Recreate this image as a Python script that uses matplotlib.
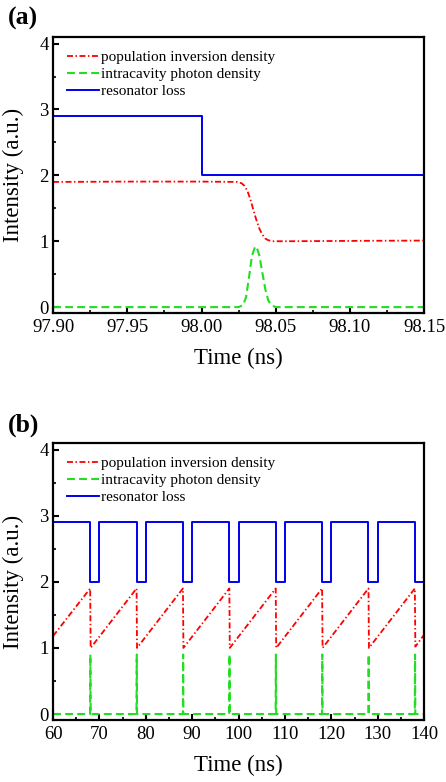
import matplotlib
matplotlib.use("Agg")
import matplotlib.pyplot as plt
from matplotlib.ticker import MultipleLocator, FormatStrFormatter

plt.rcParams['font.family'] = ['Liberation Serif', 'DejaVu Serif']
plt.rcParams['mathtext.fontset'] = 'stix'

# ---------------- data: panel (a) ----------------
a_loss_t = [97.90, 98.00, 98.15]
a_loss_v = [2.9, 2.0, 2.0]

a_inv_t = [97.90, 97.95, 98.00, 98.024, 98.027, 98.029, 98.031, 98.033, 98.035, 98.037,
           98.039, 98.041, 98.043, 98.045, 98.048, 98.06, 98.10, 98.15]
a_inv_v = [1.90, 1.905, 1.905, 1.90, 1.88, 1.84, 1.76, 1.63, 1.47, 1.32,
           1.19, 1.10, 1.04, 1.015, 1.00, 1.00, 1.005, 1.01]

a_ph_t = [97.90, 98.025, 98.028, 98.030, 98.032, 98.034, 98.036, 98.037, 98.039,
          98.041, 98.043, 98.045, 98.047, 98.050, 98.15]
a_ph_v = [0.0, 0.0, 0.03, 0.15, 0.45, 0.78, 0.91, 0.92, 0.78,
          0.52, 0.27, 0.10, 0.03, 0.0, 0.0]

# ---------------- data: panel (b) ----------------
b_loss_t = [60, 68, 70, 78, 80, 88, 90, 98, 100, 108, 110, 118, 120, 128, 130, 138, 140]
b_loss_v = [2.9, 2.0, 2.9, 2.0, 2.9, 2.0, 2.9, 2.0, 2.9, 2.0, 2.9, 2.0, 2.9, 2.0, 2.9, 2.0, 2.0]

b_inv_t = [60, 68.0, 68.1, 78.0, 78.1, 88.0, 88.1, 98.0, 98.1, 108.0, 108.1,
           118.0, 118.1, 128.0, 128.1, 138.0, 138.1, 140]
b_inv_v = [1.18, 1.90, 1.00, 1.90, 1.00, 1.90, 1.00, 1.90, 1.00, 1.90, 1.00,
           1.90, 1.00, 1.90, 1.00, 1.90, 1.02, 1.20]

b_ph_t = [60, 67.98, 68.04, 68.1, 77.98, 78.04, 78.1, 87.98, 88.04, 88.1,
          97.98, 98.04, 98.1, 107.98, 108.04, 108.1, 117.98, 118.04, 118.1,
          127.98, 128.04, 128.1, 137.98, 138.04, 138.1, 140]
b_ph_v = [0, 0, 0.9, 0, 0, 0.9, 0, 0, 0.9, 0,
          0, 0.9, 0, 0, 0.9, 0, 0, 0.9, 0,
          0, 0.9, 0, 0, 0.9, 0, 0]

labels = ['population inversion density', 'intracavity photon density', 'resonator loss']
a_xticks = [97.90, 97.95, 98.00, 98.05, 98.10, 98.15]
b_xticks = [60, 70, 80, 90, 100, 110, 120, 130, 140]
yticks = [0, 1, 2, 3, 4]

RED = '#ff0000'
GREEN = '#22dd22'
BLUE = '#0000ee'
red_ls = (0, (3.3, 1.4, 0.8, 1.4))
green_ls = (0, (3.8, 2.0))

fig = plt.figure(figsize=(4.46, 7.82), dpi=100)
ax_a = fig.add_axes([0.119, 0.5997, 0.832, 0.353])
ax_b = fig.add_axes([0.119, 0.0793, 0.832, 0.3542])


def style(ax, xticks, xlim, xminor, fmt):
    ax.set_xlim(*xlim)
    ax.set_ylim(-0.09, 4.1)
    ax.set_xticks(xticks)
    ax.set_yticks(yticks)
    ax.xaxis.set_minor_locator(MultipleLocator(xminor))
    ax.yaxis.set_minor_locator(MultipleLocator(0.5))
    ax.xaxis.set_major_formatter(FormatStrFormatter(fmt))
    ax.tick_params(which='both', direction='in', top=False, right=False,
                   labelsize=13.5)
    ax.tick_params(axis='x', pad=4)
    ax.tick_params(axis='y', pad=3)
    ax.tick_params(which='major', length=4, width=1.5)
    ax.tick_params(which='minor', length=2.5, width=1.2)
    for s in ax.spines.values():
        s.set_linewidth(1.6)
    ax.set_xlabel('Time (ns)', fontsize=16.5, labelpad=9)
    ax.set_ylabel('Intensity (a.u.)', fontsize=16.5, labelpad=11)
    leg = ax.legend(loc='upper left', frameon=False, fontsize=11,
                    handlelength=2.1, handletextpad=0.15, labelspacing=0.2,
                    borderaxespad=0.6, borderpad=0.3)
    return leg


ax_a.plot(a_inv_t, a_inv_v, color=RED, lw=1.3, ls=red_ls, label=labels[0])
ax_a.plot(a_ph_t, a_ph_v, color=GREEN, lw=1.5, ls=green_ls, label=labels[1])
ax_a.plot(a_loss_t, a_loss_v, color=BLUE, lw=1.4, drawstyle='steps-post', label=labels[2])
style(ax_a, a_xticks, (97.90, 98.15), 0.025, '%.2f')

ax_b.plot(b_inv_t, b_inv_v, color=RED, lw=1.3, ls=red_ls, label=labels[0])
ax_b.plot(b_ph_t, b_ph_v, color=GREEN, lw=1.5, ls=green_ls, label=labels[1])
ax_b.plot(b_loss_t, b_loss_v, color=BLUE, lw=1.4, drawstyle='steps-post', label=labels[2])
style(ax_b, b_xticks, (60, 140), 5, '%d')

fig.text(0.018, 0.991, '(a)', fontsize=18.5, fontweight='bold', va='top', ha='left')
fig.text(0.018, 0.471, '(b)', fontsize=18.5, fontweight='bold', va='top', ha='left')

fig.savefig('out.png', dpi=100)
